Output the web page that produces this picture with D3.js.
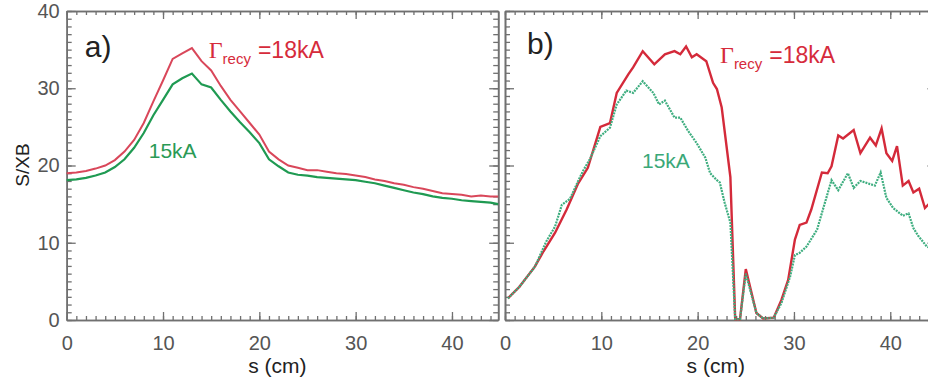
<!DOCTYPE html>
<html>
<head>
<meta charset="utf-8">
<script src="https://cdn.jsdelivr.net/npm/d3@7"></script>
<style>
  body { margin: 0; background: #fff; }
  svg { display: block; }
  text { font-family: "Liberation Sans", Arial, sans-serif; }
  .axis .domain { stroke: #707070; stroke-width: 1.6; }
  .axis .tick line { stroke: #707070; stroke-width: 1.3; }
  .axis .tick text { fill: #555; font-size: 20px; }
</style>
</head>
<body>
<div id="chart"></div>
<script>
// Size of the picture
var width = 928;
var height = 378;

// ---- data ----
// panel a) : S/XB along s (cm)
var sA = [0, 1, 2, 3, 4, 5, 6, 7, 8, 9, 10, 11, 12, 13, 14, 15, 16, 17, 18, 19, 20, 21, 22,
  23, 24, 25, 26, 27, 28, 29, 30, 31, 32, 33, 34, 35, 36, 37, 38, 39, 40, 41, 42, 43, 44, 44.8];
var redA = [19.0, 19.1, 19.3, 19.6, 20.0, 20.7, 21.8, 23.3, 25.5, 28.3, 31.0, 33.8, 34.5, 35.2,
  33.5, 32.3, 30.3, 28.5, 27.0, 25.5, 24.0, 21.8, 20.8, 20.0, 19.7, 19.4, 19.4, 19.2, 19.0, 18.9,
  18.7, 18.5, 18.2, 18.0, 17.7, 17.5, 17.2, 17.0, 16.7, 16.4, 16.3, 16.2, 16.0, 16.1, 16.0, 16.0];
var greenA = [18.1, 18.2, 18.4, 18.7, 19.1, 19.8, 20.8, 22.3, 24.2, 26.5, 28.5, 30.5, 31.3, 31.9,
  30.5, 30.1, 28.5, 27.0, 25.6, 24.3, 22.9, 20.8, 19.9, 19.1, 18.8, 18.7, 18.5, 18.4, 18.3, 18.2,
  18.1, 17.9, 17.7, 17.4, 17.1, 16.8, 16.5, 16.3, 16.0, 15.8, 15.7, 15.5, 15.4, 15.3, 15.2, 15.0];

// panel b)
var sBred = [0.3, 1.5, 3.1, 4.0, 5.2, 6.4, 7.6, 8.6, 9.9, 10.9, 11.6, 12.8, 13.3, 14.3, 15.5, 16.6,
  17.6, 18.2, 18.8, 19.4, 19.9, 20.9, 21.6, 22.0, 22.5, 23.4, 23.9, 24.4, 25.0, 26.1, 26.8, 27.9,
  28.7, 29.4, 30.1, 30.6, 31.3, 31.8, 32.9, 33.5, 33.9, 34.6, 35.1, 36.2, 36.9, 37.9, 38.5, 39.1,
  39.6, 40.2, 40.7, 41.3, 41.9, 42.4, 43.0, 43.6, 44.0];
var redB = [2.8, 4.3, 6.9, 8.9, 11.3, 14.3, 17.7, 19.7, 25.0, 25.5, 29.4, 31.8, 32.7, 34.8, 33.1,
  34.4, 34.8, 34.4, 35.4, 34.0, 34.4, 33.5, 30.7, 29.9, 27.5, 18.5, 0.1, 0.1, 6.6, 0.9, 0.2, 0.3,
  2.6, 5.2, 10.4, 12.3, 12.6, 14.3, 19.1, 19.0, 19.9, 23.9, 23.5, 24.6, 21.6, 23.6, 22.6, 24.8,
  21.6, 20.6, 22.5, 17.4, 18.0, 16.5, 17.0, 14.5, 15.0];
var sBgreen = [0.3, 1.5, 3.1, 4.3, 5.2, 5.9, 6.75, 7.6, 8.1, 8.8, 9.9, 10.9, 11.6, 12.6, 13.3, 14.3,
  15.4, 16.0, 16.6, 17.6, 18.2, 19.0, 19.9, 20.8, 21.3, 22.0, 22.3, 22.8, 23.4, 23.9, 24.4, 25.0,
  26.1, 26.8, 27.9, 28.7, 29.6, 30.1, 30.6, 31.3, 32.4, 33.1, 33.9, 34.6, 35.6, 36.2, 36.9, 38.4,
  39.0, 39.6, 40.3, 41.3, 41.9, 42.4, 42.9, 43.8, 44.0];
var greenB = [2.8, 4.3, 6.9, 10.2, 12.1, 14.9, 15.7, 18.0, 19.3, 20.8, 23.8, 24.9, 27.9, 29.7, 29.4,
  30.9, 29.4, 27.9, 28.4, 26.2, 26.2, 24.5, 22.9, 21.0, 19.0, 18.1, 17.8, 15.2, 12.6, 0.1, 0.1, 6.0,
  0.9, 0.2, 0.3, 2.2, 5.6, 8.4, 8.7, 9.5, 11.7, 14.7, 18.1, 16.8, 19.0, 17.1, 18.0, 17.4, 19.1,
  15.8, 14.5, 13.5, 13.8, 11.9, 10.9, 9.5, 9.4];

var xTicks = [0, 10, 20, 30, 40];
var yTicks = [0, 10, 20, 30, 40];

// panel frame
var pw = 431.5, ph = 309;
var x = d3.scaleLinear().domain([0, 44.8]).range([0, pw]);
var y = d3.scaleLinear().domain([0, 40]).range([ph, 0]);
var minorX = d3.range(0, 45, 1);
var minorY = d3.range(0, 41, 1);

var svg = d3.select("#chart")
  .append("svg")
  .attr("width", width)
  .attr("height", height);

function drawFrame(g, showYLabels) {
  // minor ticks first
  g.append("g").attr("class", "axis")
    .attr("transform", "translate(0," + ph + ")")
    .call(d3.axisBottom(x).tickValues(minorX).tickSize(-4).tickSizeOuter(0).tickFormat(""));
  g.append("g").attr("class", "axis")
    .call(d3.axisTop(x).tickValues(minorX).tickSize(-4).tickSizeOuter(0).tickFormat(""));
  g.append("g").attr("class", "axis")
    .call(d3.axisLeft(y).tickValues(minorY).tickSize(-5).tickSizeOuter(0).tickFormat(""));
  g.append("g").attr("class", "axis")
    .attr("transform", "translate(" + pw + ",0)")
    .call(d3.axisRight(y).tickValues(minorY).tickSize(-5).tickSizeOuter(0).tickFormat(""));

  // major ticks
  g.append("g").attr("class", "axis")
    .attr("transform", "translate(0," + ph + ")")
    .call(d3.axisBottom(x).tickValues(xTicks).tickSize(-8).tickSizeOuter(0).tickPadding(16));
  g.append("g").attr("class", "axis")
    .call(d3.axisTop(x).tickValues(xTicks).tickSize(-8).tickSizeOuter(0).tickFormat(""));
  g.append("g").attr("class", "axis")
    .call(d3.axisLeft(y).tickValues(yTicks).tickSize(-9).tickSizeOuter(0).tickPadding(7)
      .tickFormat(showYLabels ? d3.format("d") : ""));
  g.append("g").attr("class", "axis")
    .attr("transform", "translate(" + pw + ",0)")
    .call(d3.axisRight(y).tickValues(yTicks).tickSize(-9).tickSizeOuter(0).tickFormat(""));

  g.append("text")
    .attr("x", pw / 2 - 5)
    .attr("y", ph + 53)
    .attr("text-anchor", "middle")
    .style("font-size", "21px")
    .style("fill", "#222")
    .text("s (cm)");
}

function drawLabel(g, lx, ly, subDy) {
  var t = g.append("text")
    .attr("x", lx)
    .attr("y", ly)
    .style("fill", "#d62b3b");
  t.append("tspan")
    .style("font-family", "'Liberation Serif', 'Times New Roman', serif")
    .style("font-size", "24px")
    .text("Γ");
  t.append("tspan")
    .attr("dy", subDy)
    .style("font-size", "15px")
    .text("recy");
  t.append("tspan")
    .attr("dx", 7)
    .attr("dy", -subDy)
    .style("font-size", "23px")
    .text("=18kA");
}

var line = d3.line()
  .x(function(d) { return x(d[0]); })
  .y(function(d) { return y(d[1]); });

// ---- panel a) ----
var gA = svg.append("g").attr("transform", "translate(66.7,11)");
drawFrame(gA, true);

gA.append("path")
  .datum(d3.zip(sA, greenA))
  .attr("d", line)
  .style("fill", "none")
  .style("stroke", "#1f9a52")
  .style("stroke-width", 2.2);
gA.append("path")
  .datum(d3.zip(sA, redA))
  .attr("d", line)
  .style("fill", "none")
  .style("stroke", "#d9475a")
  .style("stroke-width", 2);

gA.append("text")
  .attr("x", 18).attr("y", 46)
  .style("font-size", "30px").style("fill", "#222")
  .text("a)");
drawLabel(gA, 142, 47, 6);
gA.append("text")
  .attr("x", 82).attr("y", 147)
  .style("font-size", "21px").style("fill", "#2a9a55")
  .text("15kA");

// y title
svg.append("text")
  .attr("transform", "translate(29,165) rotate(-90)")
  .attr("text-anchor", "middle")
  .style("font-size", "19px")
  .style("fill", "#222")
  .text("S/XB");

// ---- panel b) ----
var gB = svg.append("g").attr("transform", "translate(505,11)");
drawFrame(gB, false);

gB.append("path")
  .datum(d3.zip(sBred, redB))
  .attr("d", line)
  .style("fill", "none")
  .style("stroke", "#d42a3a")
  .style("stroke-width", 2.4);
gB.append("path")
  .datum(d3.zip(sBgreen, greenB))
  .attr("d", line)
  .style("fill", "none")
  .style("stroke", "#3fae80")
  .style("stroke-width", 2.2)
  .style("stroke-dasharray", "2,1");

gB.append("text")
  .attr("x", 22).attr("y", 43)
  .style("font-size", "30px").style("fill", "#222")
  .text("b)");
drawLabel(gB, 215, 52, 6);
gB.append("text")
  .attr("x", 137).attr("y", 157)
  .style("font-size", "21px").style("fill", "#3aa878")
  .text("15kA");
</script>
</body>
</html>
